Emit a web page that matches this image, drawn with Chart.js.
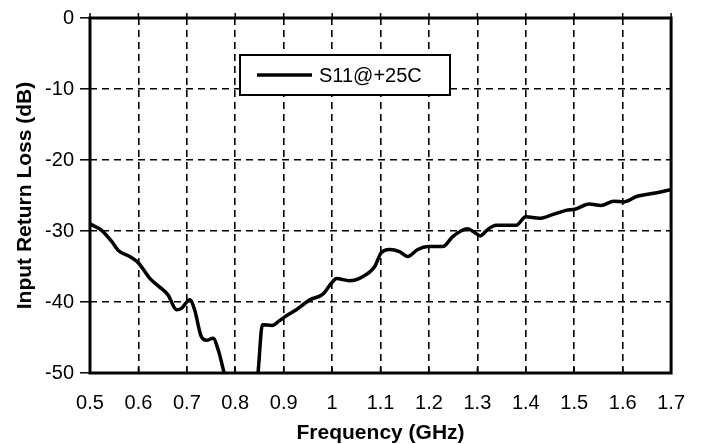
<!DOCTYPE html>
<html>
<head>
<meta charset="utf-8">
<title>Input Return Loss</title>
<script src="https://cdn.jsdelivr.net/npm/chart.js@4.4.1/dist/chart.umd.min.js"></script>
<style>
  html, body { margin: 0; padding: 0; background: #fff; }
  #wrap { width: 703px; height: 444px; position: relative; }
</style>
</head>
<body>
<div id="wrap"><canvas id="s11Chart"></canvas></div>
<script>
// values
const freqGHz = [0.500, 0.524, 0.545, 0.558, 0.582, 0.600, 0.624, 0.644, 0.661, 0.679,
                 0.689, 0.706, 0.716, 0.730, 0.741, 0.754, 0.765, 0.777, 0.800, 0.835,
                 0.847, 0.856, 0.876, 0.890, 0.902, 0.926, 0.954, 0.981, 0.998, 1.009,
                 1.036, 1.064, 1.088, 1.101, 1.119, 1.139, 1.156, 1.177, 1.198, 1.228,
                 1.249, 1.266, 1.280, 1.294, 1.306, 1.321, 1.339, 1.380, 1.400, 1.428,
                 1.455, 1.483, 1.503, 1.531, 1.555, 1.582, 1.603, 1.630, 1.655, 1.700];
const s11dB = [-29.0, -29.9, -31.5, -32.7, -33.6, -34.5, -36.7, -37.9, -39.0, -41.1,
               -40.9, -39.7, -41.1, -44.9, -45.4, -45.1, -46.8, -50.0, -56.0, -57.0,
               -50.0, -43.2, -43.3, -42.7, -42.1, -41.1, -39.7, -38.9, -37.4, -36.7,
               -37.0, -36.4, -35.0, -33.1, -32.6, -32.9, -33.6, -32.6, -32.2, -32.2,
               -30.8, -30.0, -29.7, -30.2, -30.7, -29.8, -29.2, -29.2, -28.0, -28.2,
               -27.7, -27.1, -26.9, -26.2, -26.4, -25.8, -25.9, -25.1, -24.8, -24.2];
const xTicks = [0.5, 0.6, 0.7, 0.8, 0.9, 1, 1.1, 1.2, 1.3, 1.4, 1.5, 1.6, 1.7];
const yTicks = [0, -10, -20, -30, -40, -50];
const seriesName = 'S11@+25C';

const FONT = '"Liberation Sans", Arial, sans-serif';

// frame, small tick marks on the top/bottom edges, and the boxed legend
const framePlugin = {
    id: 'frame',
    afterDatasetsDraw(chart) {
        const ctx = chart.ctx;
        const a = chart.chartArea;
        const xs = chart.scales.x;
        ctx.save();
        ctx.strokeStyle = '#000';
        ctx.lineWidth = 1.5;
        xTicks.forEach(v => {
            const px = xs.getPixelForValue(v);
            ctx.beginPath();
            ctx.moveTo(px, a.bottom);
            ctx.lineTo(px, a.bottom - 6);
            ctx.moveTo(px, a.top);
            ctx.lineTo(px, a.top - 5);
            ctx.stroke();
        });
        ctx.lineWidth = 3;
        ctx.strokeRect(a.left, a.top, a.right - a.left, a.bottom - a.top);

        // legend
        const lx = a.left + 150, ly = a.top + 37, lw = 210, lh = 40;
        ctx.fillStyle = '#fff';
        ctx.fillRect(lx, ly, lw, lh);
        ctx.lineWidth = 2;
        ctx.strokeRect(lx, ly, lw, lh);
        ctx.lineWidth = 3.5;
        ctx.beginPath();
        ctx.moveTo(lx + 17, ly + lh / 2);
        ctx.lineTo(lx + 72, ly + lh / 2);
        ctx.stroke();
        ctx.fillStyle = '#000';
        ctx.font = '20px ' + FONT;
        ctx.textBaseline = 'middle';
        ctx.textAlign = 'left';
        ctx.fillText(chart.data.datasets[0].label, lx + 79, ly + lh / 2 + 1);
        ctx.restore();
    }
};

const ctx = document.getElementById('s11Chart').getContext('2d');
new Chart(ctx, {
    type: 'line',
    data: {
        datasets: [{
            label: seriesName,
            data: freqGHz.map((f, i) => ({ x: f, y: s11dB[i] })),
            borderColor: '#000',
            borderWidth: 3.5,
            pointRadius: 0,
            cubicInterpolationMode: 'monotone',
            fill: false
        }]
    },
    options: {
        responsive: true,
        maintainAspectRatio: false,
        animation: false,
        layout: { padding: { left: 0, top: 18, right: 31, bottom: 0 } },
        plugins: {
            legend: { display: false },
            tooltip: { enabled: false }
        },
        scales: {
            x: {
                type: 'linear',
                min: 0.5,
                max: 1.7,
                afterBuildTicks: s => { s.ticks = xTicks.map(v => ({ value: v })); },
                afterFit: s => { s.height = 71; },
                grid: {
                    color: '#000',
                    lineWidth: 1.6,
                    drawTicks: false
                },
                border: { display: false, dash: [7, 5] },
                ticks: {
                    color: '#000',
                    padding: 18,
                    maxRotation: 0,
                    autoSkip: false,
                    font: { family: FONT, size: 20 },
                    callback: v => String(v)
                },
                title: {
                    display: true,
                    text: 'Frequency (GHz)',
                    color: '#000',
                    padding: { top: 0, bottom: 0 },
                    font: { family: FONT, size: 21, weight: 'bold', lineHeight: 1 }
                }
            },
            y: {
                min: -50,
                max: 0,
                afterBuildTicks: s => { s.ticks = yTicks.map(v => ({ value: v })); },
                afterFit: s => { s.width = 90; },
                grid: {
                    color: '#000',
                    lineWidth: 1.6,
                    tickLength: 10,
                    tickBorderDash: [],
                    tickWidth: 1.5
                },
                border: { display: false, dash: [7, 5] },
                ticks: {
                    color: '#000',
                    padding: 6,
                    font: { family: FONT, size: 20 }
                },
                title: {
                    display: true,
                    text: 'Input Return Loss (dB)',
                    color: '#000',
                    padding: { top: 14.5, bottom: 0 },
                    font: { family: FONT, size: 21, weight: 'bold', lineHeight: 1 }
                }
            }
        }
    },
    plugins: [framePlugin]
});
</script>
</body>
</html>
